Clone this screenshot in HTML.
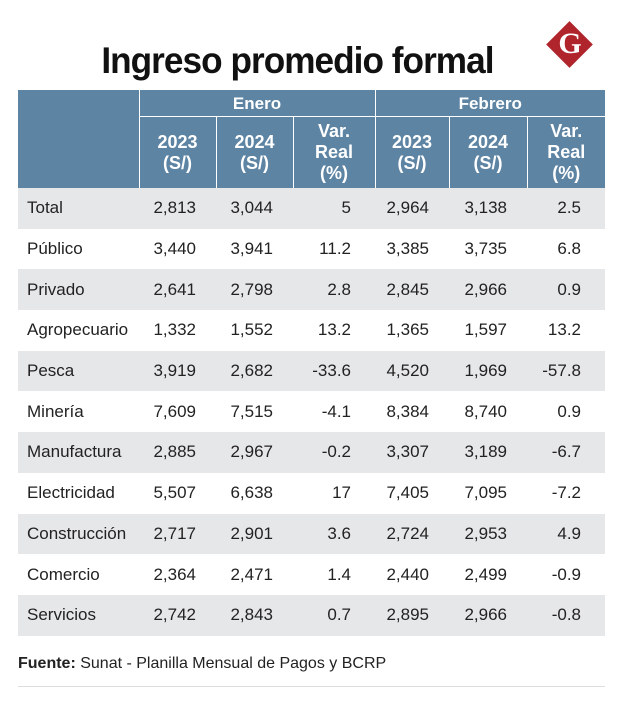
<!DOCTYPE html>
<html><head><meta charset="utf-8">
<style>
body{margin:0;background:#fff;width:620px;height:703px;overflow:hidden;font-family:"Liberation Sans",sans-serif;position:relative}
#title{position:absolute;left:0;width:594px;top:40px;text-align:center;font-weight:bold;font-size:37px;color:#111;letter-spacing:-1px}
#title span{display:inline-block;transform:scaleX(0.95)}
#logo{position:absolute;left:553px;top:28px;width:33px;height:33px;background:#b0242c;transform:rotate(45deg)}
#logoG{position:absolute;left:553px;top:27px;width:34px;text-align:center;font:bold 30px "Liberation Serif",serif;color:#fff}
table{position:absolute;left:18px;top:90px;border-collapse:collapse;table-layout:fixed}
td,th{padding:0;font-size:17px;color:#222}
th{background:#5e84a3;color:#fff;font-weight:bold;border-left:1px solid #fff;line-height:21px;font-size:18px}
th.m{height:26px;border-bottom:1px solid #fff;font-size:17px}
th.s{height:71px}
td{height:40.7px;text-align:right;padding-right:20px}
td.v{padding-right:24px}
td.l{text-align:left;padding-left:9px;padding-right:0}
tr.g td{background:#e6e7e9}
#src{position:absolute;left:18px;top:655px;font-size:16px;color:#222}
#line{position:absolute;left:18px;top:686px;width:587px;height:1px;background:#ddd}
</style></head><body>
<div id="title"><span>Ingreso promedio formal</span></div>
<div id="logo"></div>
<div id="logoG">G</div>
<table>
<colgroup><col style="width:121px"><col style="width:77px"><col style="width:77px"><col style="width:82px"><col style="width:74px"><col style="width:78px"><col style="width:78px"></colgroup>
<tr><th rowspan="2" style="border-left:none"></th><th colspan="3" class="m">Enero</th><th colspan="3" class="m">Febrero</th></tr>
<tr><th class="s">2023<br>(S/)</th><th class="s">2024<br>(S/)</th><th class="s">Var.<br>Real<br>(%)</th><th class="s">2023<br>(S/)</th><th class="s">2024<br>(S/)</th><th class="s">Var.<br>Real<br>(%)</th></tr>
<tbody id="body"></tbody>
</table>
<div id="src"><b>Fuente:</b> Sunat - Planilla Mensual de Pagos y BCRP</div>
<div id="line"></div>
<script>
const sectors=["Total","Público","Privado","Agropecuario","Pesca","Minería","Manufactura","Electricidad","Construcción","Comercio","Servicios"];
const ene2023=["2,813","3,440","2,641","1,332","3,919","7,609","2,885","5,507","2,717","2,364","2,742"];
const ene2024=["3,044","3,941","2,798","1,552","2,682","7,515","2,967","6,638","2,901","2,471","2,843"];
const eneVar=["5","11.2","2.8","13.2","-33.6","-4.1","-0.2","17","3.6","1.4","0.7"];
const feb2023=["2,964","3,385","2,845","1,365","4,520","8,384","3,307","7,405","2,724","2,440","2,895"];
const feb2024=["3,138","3,735","2,966","1,597","1,969","8,740","3,189","7,095","2,953","2,499","2,966"];
const febVar=["2.5","6.8","0.9","13.2","-57.8","0.9","-6.7","-7.2","4.9","-0.9","-0.8"];
const tb=document.getElementById('body');
sectors.forEach((s,i)=>{
  const tr=document.createElement('tr');
  
  
  if(i%2===0)tr.className='g';
  [s,ene2023[i],ene2024[i],eneVar[i],feb2023[i],feb2024[i],febVar[i]].forEach((v,j)=>{
    const td=document.createElement('td');
    
    
    if(j===0)td.className='l';
    if(j===3||j===6)td.className='v';
    td.textContent=v;tr.appendChild(td);
  });
  tb.appendChild(tr);
});
</script>
</body></html>
